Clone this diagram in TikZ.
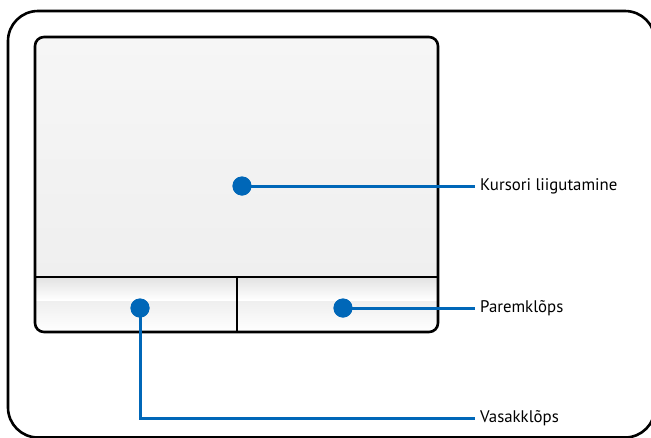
\documentclass[tikz,border=0pt]{standalone}
\usepackage{fontspec}
\setmainfont{PT Sans}
\definecolor{tpblue}{RGB}{0,103,184}
\definecolor{padtop}{RGB}{246,246,246}
\definecolor{padgray}{RGB}{239,239,239}
\definecolor{btngray}{RGB}{226,226,226}
\begin{document}
\begin{tikzpicture}[x=1pt,y=-1pt,
  frame/.style={draw=black,line width=2.6pt},
  dot/.style={circle,fill=tpblue,inner sep=0pt,minimum size=19pt},
  lead/.style={draw=tpblue,line width=3pt},
  lbl/.style={anchor=west,inner xsep=5pt,inner ysep=0pt,font=\fontsize{16.8}{18}\selectfont}]
\useasboundingbox (0,0) rectangle (651,437);
\begin{scope}
\clip (0,0) rectangle (651,437);
\draw[frame,rounded corners=30pt] (8,11) rectangle (655,437.5);
\end{scope}
% touchpad surface
\shade[top color=padtop,bottom color=padgray,rounded corners=8pt] (35,37) rectangle (438,280);
\shade[top color=btngray,bottom color=white,rounded corners=8pt] (35,277) rectangle (438,332);
\shade[top color=btngray,bottom color=white] (35,277) rectangle (438,300);
\draw[frame,rounded corners=9pt] (35,37) rectangle (438,332);
\draw[frame] (35,277) -- (438,277);
\draw[frame] (237,277) -- (237,332);
% dots
\node[dot] (d1) at (242,186) {};
\node[dot] (d2) at (343,308) {};
\node[dot] (d3) at (140,308) {};
% labels
\node[lbl] (l1) at (475,186) {Kursori liigutamine};
\node[lbl] (l2) at (475,308) {Paremklõps};
\node[lbl] (l3) at (475,418) {Vasakklõps};
% leaders
\draw[lead] (d1.center) -- (l1.west);
\draw[lead] (d2.center) -- (l2.west);
\draw[lead] (d3.center) |- (l3.west);
\node[dot] at (d1) {};
\node[dot] at (d2) {};
\node[dot] at (d3) {};
\end{tikzpicture}
\end{document}
